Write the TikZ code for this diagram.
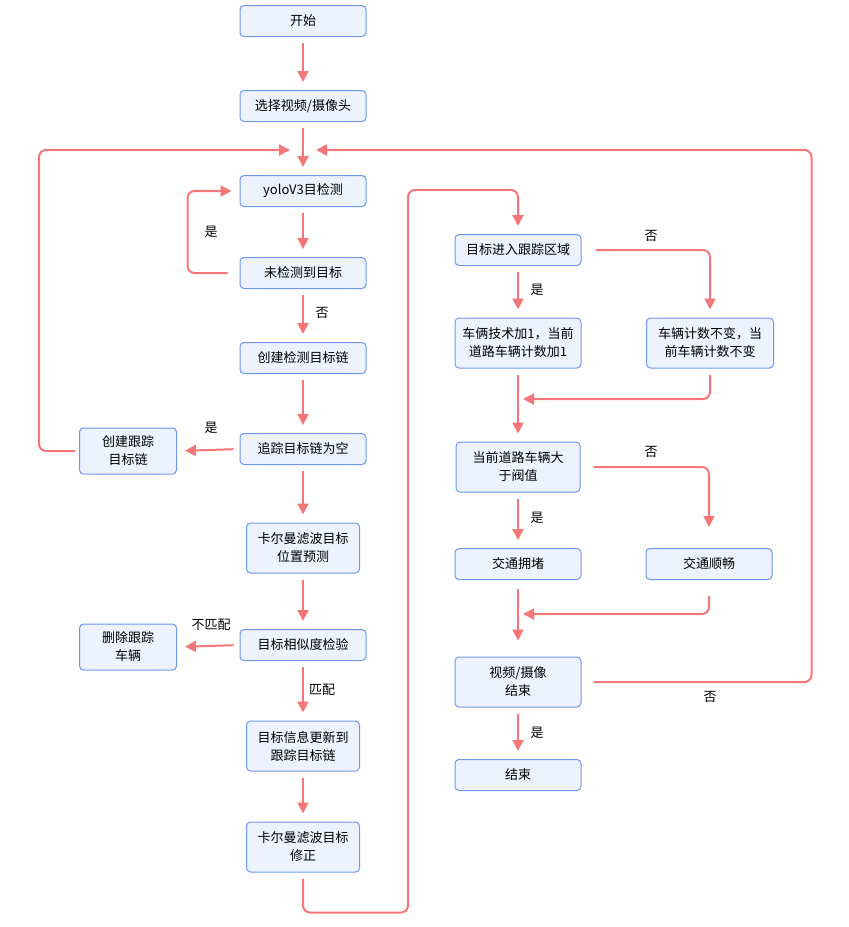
\documentclass[tikz,border=0pt]{standalone}
\usepackage{fontspec}
\setmainfont{Noto Sans CJK SC}
\usetikzlibrary{arrows.meta}
\definecolor{boxBlue}{RGB}{110,152,240}
\definecolor{boxFill}{RGB}{237,242,255}
\definecolor{flowRed}{RGB}{245,118,118}
\begin{document}
\begin{tikzpicture}[x=1pt,y=-1pt,
  box/.style={draw=boxBlue,fill=boxFill,rounded corners=4pt,line width=1pt,
    minimum width=126pt,minimum height=31pt,inner sep=2pt,align=center,
    font=\fontsize{13}{18}\selectfont},
  tallBox/.style={box,minimum height=50pt},
  sideBox/.style={box,minimum width=97pt,minimum height=46pt},
  arr/.style={draw=flowRed,line width=2pt,-{Triangle[length=11pt,width=11pt]},
    rounded corners=7pt,shorten <=6pt,shorten >=8pt},
  lbl/.style={font=\fontsize{13}{16}\selectfont}]
\useasboundingbox (0,0) rectangle (849,927);

% Left column
\node[box] (start) at (303,21) {开始};
\node[box] (select) at (303,106) {选择视频/摄像头};
\node[box] (yolo) at (303,191) {yoloV3目检测};
\node[box] (miss) at (303,273) {未检测到目标};
\node[box] (mkchain) at (303,358) {创建检测目标链};
\node[box] (empty) at (303,449) {追踪目标链为空};
\node[sideBox] (mktrack) at (128,451) {创建跟踪\\目标链};
\node[tallBox,minimum width=113pt] (kpred) at (303,548) {卡尔曼滤波目标\\位置预测};
\node[box] (simil) at (303,645) {目标相似度检验};
\node[sideBox] (deltrack) at (128,647) {删除跟踪\\车辆};
\node[tallBox,minimum width=113pt] (update) at (303,746) {目标信息更新到\\跟踪目标链};
\node[tallBox,minimum width=113pt] (kfix) at (303,847) {卡尔曼滤波目标\\修正};

% Right column
\node[box] (enter) at (518,250) {目标进入跟踪区域};
\node[tallBox] (count) at (518,343) {车俩技术加1，当前\\道路车辆计数加1};
\node[tallBox,minimum width=127pt] (keep) at (710,343) {车辆计数不变，当\\前车辆计数不变};
\node[tallBox,minimum width=124pt] (judge) at (518,467) {当前道路车辆大\\于阀值};
\node[box] (jam) at (518,564) {交通拥堵};
\node[box] (smooth) at (709,564) {交通顺畅};
\node[tallBox] (vend) at (518,682) {视频/摄像\\结束};
\node[box] (finish) at (518,775) {结束};

% Join points
\coordinate (mergeTop) at (303,150);
\coordinate (joinA) at (518,399);
\coordinate (joinB) at (518,614);

% Connections
\draw[arr] (start) -- (select);
\draw[arr] (select) -- (yolo);
\draw[arr] (yolo) -- (miss);
\draw[arr,shorten <=12pt] (miss.west) -- ++(-52,0) |- (yolo.west);
\draw[arr] (miss) -- (mkchain);
\draw[arr] (mkchain) -- (empty);
\draw[arr] (empty.west) -- (mktrack.east);
\draw[arr,shorten <=4pt,shorten >=13pt] (mktrack.west) -- ++(-40,0) |- (mergeTop);
\draw[arr] (empty) -- (kpred);
\draw[arr] (kpred) -- (simil);
\draw[arr] (simil.west) -- (deltrack.east);
\draw[arr] (simil) -- (update);
\draw[arr] (update) -- (kfix);
\draw[arr] (kfix.south) -- ++(0,40) -| (408,190) -| (enter.north);
\draw[arr] (enter) -- (count);
\draw[arr,shorten <=14pt] (enter.east) -| (keep.north);
\draw[arr] (count) -- (judge);
\draw[arr,shorten >=5pt] (keep.south) |- (joinA);
\draw[arr] (judge) -- (jam);
\draw[arr,shorten <=13pt,shorten >=21pt] (judge.east) -| (smooth.north);
\draw[arr,shorten <=9pt,shorten >=16pt] (jam) -- (vend);
\draw[arr,shorten <=16pt,shorten >=5pt] (smooth.south) |- (joinB);
\draw[arr] (vend) -- (finish);
\draw[arr,shorten <=12pt,shorten >=13pt] (vend.east) -- ++(230,0) |- (mergeTop);

% Labels
\node[lbl] (l1) at (211,232) {是};
\node[lbl] (l2) at (322,313) {否};
\node[lbl] (l3) at (211,428) {是};
\node[lbl] (l4) at (211,625) {不匹配};
\node[lbl] (l5) at (322,690) {匹配};
\node[lbl] (l6) at (537,290) {是};
\node[lbl] (l7) at (651,236) {否};
\node[lbl] (l8) at (537,518) {是};
\node[lbl] (l9) at (651,452) {否};
\node[lbl] (l10) at (537,733) {是};
\node[lbl] (l11) at (710,697) {否};
\end{tikzpicture}
\end{document}
